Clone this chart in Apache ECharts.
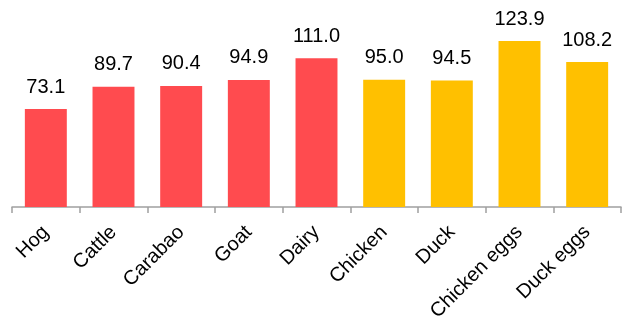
<!DOCTYPE html>
<html>
<head>
<meta charset="utf-8">
<script src="https://cdn.jsdelivr.net/npm/echarts@6/dist/echarts.min.js"></script>
<style>
  html, body { margin: 0; padding: 0; background: #fff; }
  #chart { width: 622px; height: 324px; }
</style>
</head>
<body>
<div id="chart"></div>
<script>
// Livestock and poultry categories with their index values
const categories = ['Hog', 'Cattle', 'Carabao', 'Goat', 'Dairy', 'Chicken', 'Duck', 'Chicken eggs', 'Duck eggs'];
const values = [73.1, 89.7, 90.4, 94.9, 111.0, 95.0, 94.5, 123.9, 108.2];
// Livestock groups are red, poultry groups are amber
const groups = ['livestock', 'livestock', 'livestock', 'livestock', 'livestock', 'poultry', 'poultry', 'poultry', 'poultry'];

const groupColor = { livestock: '#FF4B4F', poultry: '#FFC000' };

const chart = echarts.init(document.getElementById('chart'), null, { renderer: 'canvas' });
chart.setOption({
  animation: false,
  backgroundColor: '#fff',
  grid: { left: 12, right: 1, top: 6, bottom: 116, containLabel: false },
  xAxis: {
    type: 'category',
    data: categories,
    boundaryGap: true,
    axisLine: { lineStyle: { color: '#A0A0A0', width: 1.5 } },
    axisTick: { show: true, length: 6, lineStyle: { color: '#A0A0A0', width: 1.5 } },
    axisLabel: {
      rotate: 45,
      interval: 0,
      margin: 22,
      color: '#000',
      fontSize: 20,
      fontFamily: 'Liberation Sans, Arial, sans-serif'
    }
  },
  yAxis: {
    type: 'value',
    min: 0,
    max: 150,
    show: false,
    splitLine: { show: false }
  },
  series: [{
    type: 'bar',
    barWidth: '62%',
    data: values.map((v, i) => ({ value: v, itemStyle: { color: groupColor[groups[i]] } })),
    label: {
      show: true,
      position: 'top',
      distance: 12,
      color: '#000',
      fontSize: 20,
      fontFamily: 'Liberation Sans, Arial, sans-serif',
      formatter: p => p.value.toFixed(1)
    }
  }]
});
</script>
</body>
</html>
